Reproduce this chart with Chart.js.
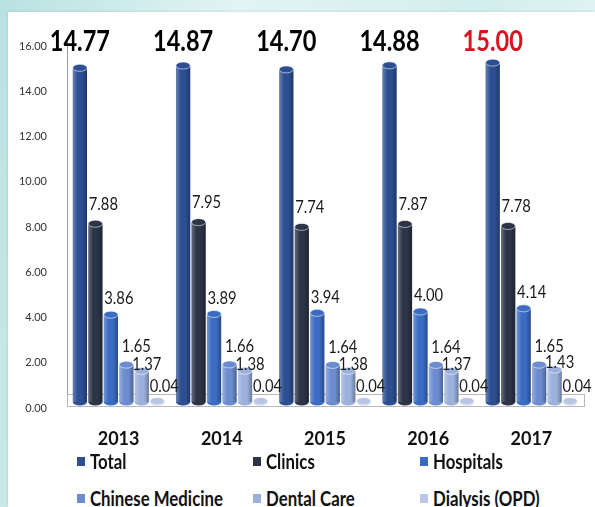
<!DOCTYPE html>
<html>
<head>
<meta charset="utf-8">
<script src="https://cdn.jsdelivr.net/npm/chart.js@4/dist/chart.umd.min.js"></script>
<style>
  html, body { margin: 0; padding: 0; }
  body {
    width: 595px; height: 507px; overflow: hidden; position: relative;
    background: linear-gradient(100deg, #b9e2e2 0%, #e2f4f4 35%, #d3eeee 70%, #e6f6f6 100%);
  }
  #panel {
    position: absolute; left: 8px; top: 12px; width: 587px; height: 495px;
    background: #fff; box-shadow: -1px -1px 2px rgba(0,0,0,0.08);
  }
  #chart { position: absolute; left: 0; top: 0; }
  #legend {
    position: absolute; left: 0; top: 440px; width: 587px; height: 55px;
    font: bold 20px Lato, "DejaVu Sans", sans-serif;
    color: #111;
  }
  .item { position: absolute; display: flex; align-items: center; white-space: nowrap; }
  .box { width: 8px; height: 9px; margin-right: 5px; }
  .txt { display: inline-block; transform: scaleX(0.84); transform-origin: left center; }
</style>
</head>
<body>
<div id="panel">
  <canvas id="chart" width="587" height="440"></canvas>
  <div id="legend"></div>
</div>
<script>
const years = ["2013", "2014", "2015", "2016", "2017"]
const seriesNames = ["Total", "Clinics", "Hospitals", "Chinese Medicine", "Dental Care", "Dialysis (OPD)"]
const total = [14.77, 14.87, 14.70, 14.88, 15.00]
const clinics = [7.88, 7.95, 7.74, 7.87, 7.78]
const hospitals = [3.86, 3.89, 3.94, 4.00, 4.14]
const chineseMedicine = [1.65, 1.66, 1.64, 1.64, 1.65]
const dentalCare = [1.37, 1.38, 1.38, 1.37, 1.43]
const dialysis = [0.04, 0.04, 0.04, 0.04, 0.04]

const colors = ["#2d4f92", "#2b3547", "#3b6cc3", "#6d8ccf", "#9cb0dc", "#b9c5e4"]
const FONT = 'Lato, "DejaVu Sans", sans-serif'

// label offsets from the top of each bar (series after Total)
const labelShift = [null, [8, -20], [8, -16], [10, -18], [5, -7], [7, -15]]

// narrow text, drawn squeezed sideways like the original condensed font
function drawNarrow(ctx, text, x, y, squeeze) {
    ctx.save()
    ctx.translate(x, y)
    ctx.scale(squeeze, 1)
    ctx.fillText(text, 0, 0)
    ctx.restore()
}

const cylinderPlugin = {
    id: "cylinders",
    beforeDatasetsDraw(chart) {
        const { ctx, chartArea } = chart
        ctx.save()
        ctx.strokeStyle = "#b8b8b8"
        ctx.lineWidth = 1
        ctx.strokeRect(chartArea.left + 0.5, chartArea.bottom - 7.5, chartArea.right - chartArea.left + 1, 12)
        ctx.restore()
    },
    afterDatasetsDraw(chart) {
        const { ctx } = chart
        ctx.save()
        chart.data.datasets.forEach((ds, di) => {
            const meta = chart.getDatasetMeta(di)
            meta.data.forEach((bar) => {
                const w = bar.width
                const left = bar.x - w / 2
                const h = bar.base - bar.y
                const g = ctx.createLinearGradient(left, 0, left + w, 0)
                g.addColorStop(0, "rgba(255,255,255,0.28)")
                g.addColorStop(0.35, "rgba(255,255,255,0)")
                g.addColorStop(0.65, "rgba(0,0,0,0)")
                g.addColorStop(1, "rgba(0,0,0,0.3)")
                ctx.fillStyle = g
                ctx.fillRect(left, bar.y, w, h)
                ctx.beginPath()
                ctx.ellipse(bar.x, bar.base, w / 2, 3.5, 0, 0, Math.PI)
                ctx.fillStyle = ds.backgroundColor
                ctx.fill()
                ctx.beginPath()
                ctx.ellipse(bar.x, bar.y, w / 2, 3.5, 0, 0, Math.PI * 2)
                ctx.fillStyle = ds.backgroundColor
                ctx.fill()
                ctx.strokeStyle = "rgba(255,255,255,0.55)"
                ctx.lineWidth = 1
                ctx.stroke()
            })
        })
        ctx.restore()
    },
}

const valueLabelPlugin = {
    id: "valueLabels",
    afterDraw(chart) {
        const { ctx } = chart
        ctx.save()
        ctx.textBaseline = "middle"
        ctx.textAlign = "center"
        chart.data.datasets.forEach((ds, di) => {
            const meta = chart.getDatasetMeta(di)
            meta.data.forEach((bar, i) => {
                const text = ds.data[i].toFixed(2)
                if (di === 0) {
                    ctx.font = "bold 28px " + FONT
                    ctx.fillStyle = i === ds.data.length - 1 ? "#d9141e" : "#000"
                    drawNarrow(ctx, text, bar.x, 30, 0.84)
                } else {
                    const [dx, dy] = labelShift[di]
                    ctx.font = "18px " + FONT
                    ctx.fillStyle = "#1a1a1a"
                    drawNarrow(ctx, text, bar.x + dx, bar.y + dy, 0.82)
                }
            })
        })
        ctx.restore()
    },
}

const seriesValues = [total, clinics, hospitals, chineseMedicine, dentalCare, dialysis]

const chart = new Chart(document.getElementById("chart"), {
    type: "bar",
    data: {
        labels: years,
        datasets: seriesNames.map((name, i) => ({
            label: name,
            data: seriesValues[i],
            backgroundColor: colors[i],
            categoryPercentage: 0.9,
            barPercentage: 0.92,
        })),
    },
    options: {
        responsive: false,
        animation: false,
        layout: { padding: { top: 28, right: 12, left: 0, bottom: 0 } },
        plugins: {
            legend: { display: false },
            tooltip: { enabled: false },
        },
        scales: {
            x: {
                grid: { display: false },
                border: { display: false },
                afterFit: (axis) => {
                    axis.height = 50
                },
                ticks: {
                    padding: 18,
                    color: "#111",
                    font: { family: FONT, size: 18, weight: "bold" },
                },
            },
            y: {
                min: 0,
                max: 16,
                grid: { display: false },
                border: { display: true, color: "#9a9a9a" },
                afterFit: (axis) => {
                    axis.width = 59
                },
                ticks: {
                    stepSize: 2,
                    padding: 12,
                    labelOffset: 6,
                    color: "#333",
                    font: { family: FONT, size: 11 },
                    callback: (v) => v.toFixed(2),
                },
            },
        },
    },
    plugins: [cylinderPlugin, valueLabelPlugin],
})

// legend in three columns, items taken from the chart
const legendEl = document.getElementById("legend")
const colX = [69, 245, 412]
const rowY = [9, 46]
chart.options.plugins.legend.labels.generateLabels(chart).forEach((item, i) => {
    const el = document.createElement("div")
    el.className = "item"
    el.style.left = colX[i % 3] + "px"
    el.style.top = rowY[Math.floor(i / 3)] - 12 + "px"
    const box = document.createElement("span")
    box.className = "box"
    box.style.background = item.fillStyle
    const label = document.createElement("span")
    label.className = "txt"
    label.textContent = item.text
    el.appendChild(box)
    el.appendChild(label)
    legendEl.appendChild(el)
})
</script>
</body>
</html>
